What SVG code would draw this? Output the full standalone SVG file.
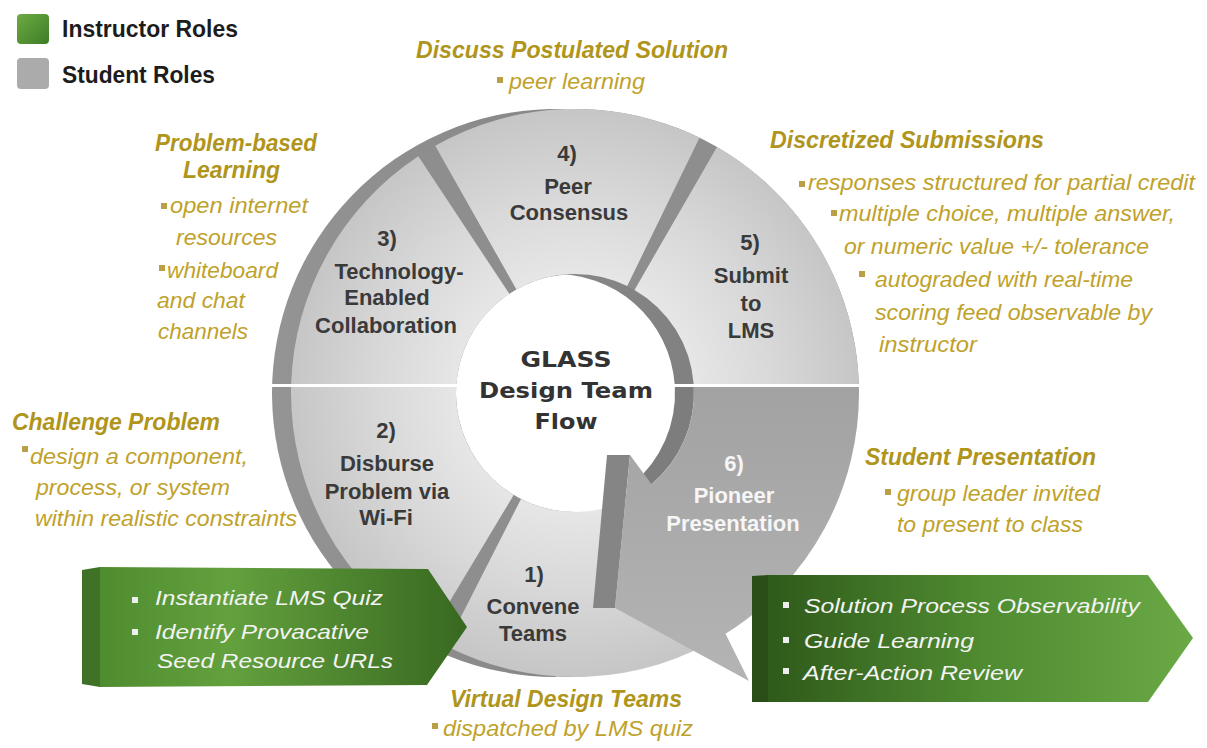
<svg xmlns="http://www.w3.org/2000/svg" width="1207" height="748" viewBox="0 0 1207 748">
<defs>
<style>
.seg{font-family:"Liberation Sans",Arial,sans-serif;font-weight:bold;font-size:22px;fill:#3a3a3a;text-anchor:middle}
.seg6{font-family:"Liberation Sans",Arial,sans-serif;font-weight:bold;font-size:22px;fill:#f6f6f6;text-anchor:middle}
.ctr{font-family:"DejaVu Sans","Liberation Sans",sans-serif;font-weight:bold;font-size:22px;fill:#333333;text-anchor:middle}
.gt{font-family:"Liberation Sans",Arial,sans-serif;font-weight:bold;font-style:italic;font-size:24px;fill:#b0951c}
.gb{font-family:"Liberation Sans",Arial,sans-serif;font-style:italic;font-size:22.5px;fill:#bfa22b}
.bul{fill:#b9a047}
.box{font-family:"Liberation Sans",Arial,sans-serif;font-style:italic;font-size:21px;fill:#f3f3f3}
.wb{fill:#eeeeee}
.leg{font-family:"Liberation Sans",Arial,sans-serif;font-weight:bold;font-size:24px;fill:#1c1c1c}
.face{fill:url(#gFace)}
</style>
<radialGradient id="gFace" gradientUnits="userSpaceOnUse" cx="575" cy="393" r="284">
<stop offset="0.42" stop-color="#e6e6e6"/>
<stop offset="0.7" stop-color="#d8d8d8"/>
<stop offset="1" stop-color="#c6c6c6"/>
</radialGradient>
<linearGradient id="gExt" gradientUnits="userSpaceOnUse" x1="270" y1="0" x2="860" y2="0">
<stop offset="0" stop-color="#959595"/>
<stop offset="1" stop-color="#7a7a7a"/>
</linearGradient>
<linearGradient id="gSix" x1="0" y1="0" x2="0" y2="1">
<stop offset="0" stop-color="#a2a2a2"/>
<stop offset="1" stop-color="#b4b4b4"/>
</linearGradient>
<linearGradient id="gLeft" x1="0" y1="0" x2="1" y2="0">
<stop offset="0" stop-color="#4f8c2f"/>
<stop offset="0.35" stop-color="#63a13e"/>
<stop offset="1" stop-color="#386820"/>
</linearGradient>
<linearGradient id="gRight" x1="0" y1="0" x2="1" y2="0">
<stop offset="0" stop-color="#2f5a1a"/>
<stop offset="0.5" stop-color="#4f8b31"/>
<stop offset="1" stop-color="#6ba946"/>
</linearGradient>
<linearGradient id="gLeg" x1="0" y1="0" x2="1" y2="1">
<stop offset="0" stop-color="#6cab43"/>
<stop offset="1" stop-color="#3e7c27"/>
</linearGradient>
<path id="baseSector" d="M 575,677 A 284 284 0 1 1 858.86,384 L 693.66,384 A 119 119 0 1 0 575,512 Z"/>
</defs>

<g id="legend">
<rect x="17" y="14" width="32" height="30" rx="4" fill="url(#gLeg)"/>
<text x="62" y="37" class="leg" textLength="176" lengthAdjust="spacingAndGlyphs">Instructor Roles</text>
<rect x="17" y="58" width="32" height="31" rx="4" fill="#ababab"/>
<text x="62" y="83" class="leg" textLength="153" lengthAdjust="spacingAndGlyphs">Student Roles</text>
</g>

<g id="ring-base">
<use href="#baseSector" transform="translate(-19,0)" fill="url(#gExt)"/>
<use href="#baseSector" fill="#8e8e8e"/>
</g>

<g id="seg1">
<path class="face" d="M 725.5,633.8 A 284 284 0 0 1 446.1,646 L 521,499 A 119 119 0 0 0 638.1,493.9 Z"/>
<text x="534" y="582" class="seg">1)</text>
<text x="533" y="614" class="seg">Convene</text>
<text x="533" y="641" class="seg">Teams</text>
</g>

<g id="seg2">
<path class="face" d="M 428.7,636.4 A 284 284 0 0 1 291.06,387 L 456.15,387 A 119 119 0 0 0 513.7,495 Z"/>
<text x="386" y="438" class="seg">2)</text>
<text x="387" y="471" class="seg">Disburse</text>
<text x="387" y="499" class="seg">Problem via</text>
<text x="386" y="525" class="seg">Wi-Fi</text>
</g>

<g id="seg3">
<path class="face" d="M 291.14,384 A 284 284 0 0 1 418.3,156.2 L 509.3,293.8 A 119 119 0 0 0 456.34,384 Z"/>
<text x="387" y="246" class="seg">3)</text>
<text x="399" y="279" class="seg">Technology-</text>
<text x="387" y="305" class="seg">Enabled</text>
<text x="386" y="333" class="seg">Collaboration</text>
</g>

<g id="seg4">
<path class="face" d="M 435.2,145.8 A 284 284 0 0 1 699.5,137.7 L 627.2,286 A 119 119 0 0 0 516.4,289.4 Z"/>
<text x="567" y="161" class="seg">4)</text>
<text x="568" y="194" class="seg">Peer</text>
<text x="569" y="220" class="seg">Consensus</text>
</g>

<g id="seg5">
<path class="face" d="M 717,147 A 284 284 0 0 1 858.86,384 L 693.66,384 A 119 119 0 0 0 634.5,289.9 Z"/>
<text x="750" y="250" class="seg">5)</text>
<text x="751" y="283" class="seg">Submit</text>
<text x="751" y="311" class="seg">to</text>
<text x="751" y="338" class="seg">LMS</text>
</g>

<rect x="266" y="384" width="194" height="3" fill="#ffffff"/>

<g id="seg6">
<path fill="#7d7d7d" d="M 674.85,387 A 119 119 0 0 1 632.5,484.2 L 651.5,484.2 A 119 119 0 0 0 693.85,387 Z"/>
<polygon points="607,455 630,455 615,608 593,608" fill="#858585"/>
<path fill="url(#gSix)" d="M 693.85,387 L 858.94,387 A 284 284 0 0 1 725.5,633.8 L 749,681 L 615,608 L 630,455 L 651.5,484.2 A 119 119 0 0 0 693.85,387 Z"/>
<text x="734" y="471" class="seg6">6)</text>
<text x="734" y="503" class="seg6">Pioneer</text>
<text x="733" y="531" class="seg6">Presentation</text>
</g>

<g id="center">
<text x="566" y="367" class="ctr" textLength="91" lengthAdjust="spacingAndGlyphs">GLASS</text>
<text x="566" y="398" class="ctr" textLength="174" lengthAdjust="spacingAndGlyphs">Design Team</text>
<text x="566" y="429" class="ctr" textLength="63" lengthAdjust="spacingAndGlyphs">Flow</text>
</g>

<g id="instructor-left">
<polygon points="82,570 100,567 100,687 82,684" fill="#3f7226"/>
<polygon points="100,567 428,569 467,627 427,685 100,687" fill="url(#gLeft)"/>
<rect x="132" y="597" width="6" height="6" class="wb"/>
<text x="155" y="605" class="box" textLength="228" lengthAdjust="spacingAndGlyphs">Instantiate LMS Quiz</text>
<rect x="132" y="629" width="6" height="6" class="wb"/>
<text x="155" y="639" class="box" textLength="214" lengthAdjust="spacingAndGlyphs">Identify Provacative</text>
<text x="157" y="668" class="box" textLength="236" lengthAdjust="spacingAndGlyphs">Seed Resource URLs</text>
</g>

<g id="instructor-right">
<polygon points="752,576 768,575 768,702 752,702" fill="#2a4e17"/>
<polygon points="768,575 1148,575 1193,638 1148,702 768,702" fill="url(#gRight)"/>
<rect x="783" y="602" width="6" height="6" class="wb"/>
<text x="804" y="613" class="box" textLength="336" lengthAdjust="spacingAndGlyphs">Solution Process Observability</text>
<rect x="783" y="637" width="6" height="6" class="wb"/>
<text x="804" y="648" class="box" textLength="170" lengthAdjust="spacingAndGlyphs">Guide Learning</text>
<rect x="783" y="668" width="6" height="6" class="wb"/>
<text x="803" y="680" class="box" textLength="219" lengthAdjust="spacingAndGlyphs">After-Action Review</text>
</g>

<g id="note-peer">
<text x="416" y="58" class="gt" textLength="312" lengthAdjust="spacingAndGlyphs">Discuss Postulated Solution</text>
<rect x="497" y="77" width="6" height="6" class="bul"/>
<text x="509" y="89" class="gb" textLength="136" lengthAdjust="spacingAndGlyphs">peer learning</text>
</g>

<g id="note-pbl">
<text x="155" y="151" class="gt" textLength="162" lengthAdjust="spacingAndGlyphs">Problem-based</text>
<text x="183" y="178" class="gt" textLength="97" lengthAdjust="spacingAndGlyphs">Learning</text>
<rect x="161" y="203" width="6" height="6" class="bul"/>
<text x="170" y="213" class="gb" textLength="138" lengthAdjust="spacingAndGlyphs">open internet</text>
<text x="176" y="245" class="gb" textLength="101" lengthAdjust="spacingAndGlyphs">resources</text>
<rect x="159" y="265" width="6" height="6" class="bul"/>
<text x="167" y="278" class="gb" textLength="111" lengthAdjust="spacingAndGlyphs">whiteboard</text>
<text x="157" y="308" class="gb" textLength="88" lengthAdjust="spacingAndGlyphs">and chat</text>
<text x="158" y="339" class="gb" textLength="90" lengthAdjust="spacingAndGlyphs">channels</text>
</g>

<g id="note-submissions">
<text x="770" y="148" class="gt" textLength="274" lengthAdjust="spacingAndGlyphs">Discretized Submissions</text>
<rect x="799" y="181" width="6" height="6" class="bul"/>
<text x="808" y="190" class="gb" textLength="387" lengthAdjust="spacingAndGlyphs">responses structured for partial credit</text>
<rect x="831" y="210" width="6" height="6" class="bul"/>
<text x="839" y="221" class="gb" textLength="336" lengthAdjust="spacingAndGlyphs">multiple choice, multiple answer,</text>
<text x="844" y="254" class="gb" textLength="305" lengthAdjust="spacingAndGlyphs">or numeric value +/- tolerance</text>
<rect x="859" y="271" width="6" height="6" class="bul"/>
<text x="875" y="287" class="gb" textLength="258" lengthAdjust="spacingAndGlyphs">autograded with real-time</text>
<text x="875" y="320" class="gb" textLength="277" lengthAdjust="spacingAndGlyphs">scoring feed observable by</text>
<text x="879" y="352" class="gb" textLength="98" lengthAdjust="spacingAndGlyphs">instructor</text>
</g>

<g id="note-challenge">
<text x="12" y="430" class="gt" textLength="208" lengthAdjust="spacingAndGlyphs">Challenge Problem</text>
<rect x="22" y="446" width="6" height="6" class="bul"/>
<text x="30" y="464" class="gb" textLength="218" lengthAdjust="spacingAndGlyphs">design a component,</text>
<text x="36" y="495" class="gb" textLength="194" lengthAdjust="spacingAndGlyphs">process, or system</text>
<text x="35" y="526" class="gb" textLength="262" lengthAdjust="spacingAndGlyphs">within realistic constraints</text>
</g>

<g id="note-presentation">
<text x="865" y="465" class="gt" textLength="231" lengthAdjust="spacingAndGlyphs">Student Presentation</text>
<rect x="885" y="489" width="6" height="6" class="bul"/>
<text x="897" y="501" class="gb" textLength="203" lengthAdjust="spacingAndGlyphs">group leader invited</text>
<text x="897" y="532" class="gb" textLength="186" lengthAdjust="spacingAndGlyphs">to present to class</text>
</g>

<g id="note-teams">
<text x="450" y="707" class="gt" textLength="232" lengthAdjust="spacingAndGlyphs">Virtual Design Teams</text>
<rect x="432" y="723" width="6" height="6" class="bul"/>
<text x="443" y="736" class="gb" textLength="250" lengthAdjust="spacingAndGlyphs">dispatched by LMS quiz</text>
</g>
</svg>
